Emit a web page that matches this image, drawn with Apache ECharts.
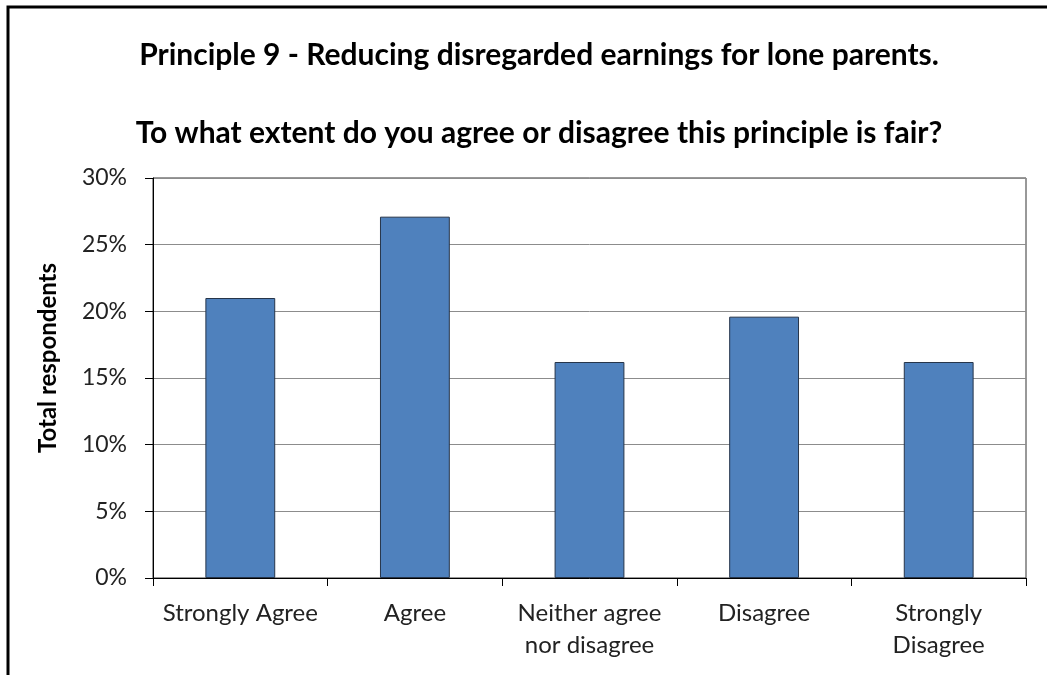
<!DOCTYPE html>
<html>
<head>
<meta charset="utf-8">
<script src="https://cdn.jsdelivr.net/npm/echarts@6/dist/echarts.min.js"></script>
<style>
  html, body { margin: 0; padding: 0; background: #fff; }
  #main { width: 1047px; height: 675px; }
</style>
</head>
<body>
<div id="main"></div>
<script>
// 数据
var categories = ["Strongly Agree", "Agree", "Neither agree\nnor disagree", "Disagree", "Strongly\nDisagree"];
var percentValues = [21.0, 27.1, 16.2, 19.6, 16.2];
var titleLines = ["Principle 9 - Reducing disregarded earnings for lone parents.", "To what extent do you agree or disagree this principle is fair?"];

var FONT = "Lato";

var myChart = echarts.init(document.getElementById('main'));
var option = {
  backgroundColor: '#fff',
  title: [
    { text: titleLines[0], left: 534, top: 35, textAlign: 'center',
      textStyle: { fontFamily: FONT, fontSize: 30, fontWeight: 'bold', color: '#000' } },
    { text: titleLines[1], left: 534, top: 113, textAlign: 'center',
      textStyle: { fontFamily: FONT, fontSize: 30, fontWeight: 'bold', color: '#000' } }
  ],
  graphic: [
    { type: 'rect', shape: { x: 8, y: 7, width: 1200, height: 800 },
      style: { fill: 'none', stroke: '#000', lineWidth: 3 }, silent: true }
  ],
  grid: { left: 153, right: 21, top: 178, bottom: 97, show: true, borderColor: '#333', borderWidth: 1 },
  xAxis: {
    type: 'category',
    data: categories,
    axisLine: { lineStyle: { color: '#000', width: 1 } },
    axisTick: { show: true, length: 8, lineStyle: { color: '#000' } },
    axisLabel: { fontFamily: FONT, fontSize: 24, color: '#222', margin: 19, lineHeight: 32, interval: 0 }
  },
  yAxis: {
    type: 'value',
    min: 0, max: 30, interval: 5,
    name: 'Total respondents',
    nameLocation: 'middle',
    nameGap: 93,
    nameTextStyle: { fontFamily: FONT, fontSize: 24, fontWeight: 'bold', color: '#000', padding: [0, 0, 0, 40] },
    axisLine: { show: true, lineStyle: { color: '#000', width: 1 } },
    axisTick: { show: true, length: 8, lineStyle: { color: '#000' } },
    axisLabel: { formatter: '{value}%', fontFamily: FONT, fontSize: 23, color: '#222', margin: 26 },
    splitLine: { lineStyle: { color: '#8c8c8c', width: 1 } }
  },
  series: [{
    type: 'bar',
    data: percentValues,
    barCategoryGap: '60%',
    itemStyle: { color: '#4F81BD', borderColor: '#26354a', borderWidth: 1 },
    animation: false
  }]
};
myChart.setOption(option);
</script>
</body>
</html>
